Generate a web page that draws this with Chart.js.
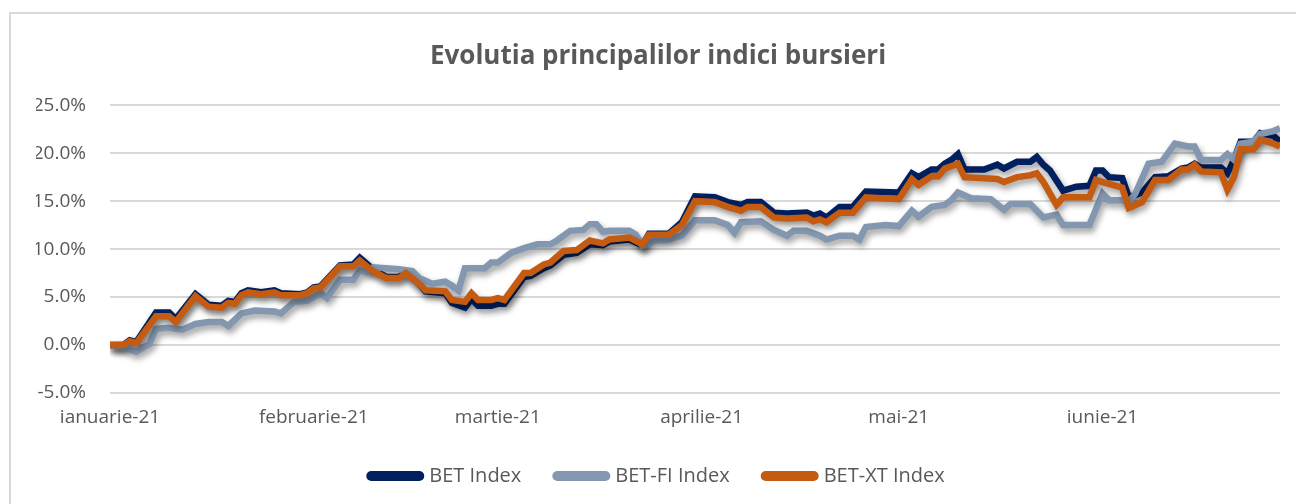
<!DOCTYPE html>
<html lang="ro">
<head>
    <meta charset="UTF-8">
    <title>Evolutia principalilor indici bursieri</title>
    <style>
        body {
            margin: 0;
            padding: 0;
            background: #fff;
            overflow: hidden;
        }
        .frame {
            position: absolute;
            left: 9px;
            top: 12px;
            width: 1300px;
            height: 500px;
            border: 2px solid #d9d9d9;
        }
        .wrap {
            position: absolute;
            left: 0;
            top: 0;
            width: 1296px;
            height: 504px;
        }
    </style>
</head>
<body>
    <div class="frame"></div>
    <div class="wrap"><canvas id="indiciChart" width="1296" height="504"></canvas></div>

    <script src="https://cdn.jsdelivr.net/npm/chart.js"></script>
    <script>
        // zile de la inceputul axei (0 = ianuarie) si variatia in %
        const monthStarts = [0, 31, 59, 90, 120, 151];
        const monthLabels = ['ianuarie-21', 'februarie-21', 'martie-21', 'aprilie-21', 'mai-21', 'iunie-21'];
        const yTicks = [-5, 0, 5, 10, 15, 20, 25];

        const betDays = [0, 2, 3, 4, 7, 9, 10, 13, 15, 17, 18, 19, 20, 21, 23, 25, 26, 29, 30, 31, 32, 35, 37, 38, 40, 42, 44, 45, 47, 48, 51, 52, 54, 55, 56, 58, 59, 60, 63, 64, 66, 67, 69, 71, 73, 75, 76, 79, 81, 82, 85, 87, 89, 92, 94, 96, 97, 99, 101, 103, 106, 107, 108, 109, 111, 113, 115, 120, 122, 123, 125, 126, 127, 128, 129, 130, 133, 135, 136, 138, 140, 141, 142, 143, 145, 147, 149, 150, 151, 152, 154, 155, 157, 159, 161, 163, 164, 165, 166, 169, 170, 171, 172, 174, 175, 177, 178];
        const betValues = [0.0, 0.0, 0.5, 0.3, 3.4, 3.4, 2.7, 5.3, 4.2, 4.1, 4.6, 4.5, 5.4, 5.7, 5.5, 5.7, 5.4, 5.3, 5.5, 6.0, 6.1, 8.3, 8.4, 9.1, 7.9, 7.1, 7.1, 7.6, 6.4, 5.6, 5.4, 4.4, 3.9, 4.8, 4.1, 4.1, 4.3, 4.3, 7.1, 7.2, 8.0, 8.3, 9.4, 9.6, 10.5, 10.4, 10.8, 11.0, 10.4, 11.6, 11.6, 12.8, 15.5, 15.4, 14.9, 14.6, 14.9, 14.9, 13.8, 13.7, 13.8, 13.5, 13.7, 13.3, 14.4, 14.4, 16.0, 15.9, 17.9, 17.5, 18.3, 18.3, 18.9, 19.3, 19.9, 18.3, 18.3, 18.8, 18.4, 19.1, 19.1, 19.6, 18.8, 18.2, 16.1, 16.5, 16.6, 18.2, 18.2, 17.5, 17.4, 15.4, 15.9, 17.5, 17.6, 18.4, 18.5, 18.9, 18.5, 18.5, 17.9, 19.3, 21.2, 21.2, 22.1, 21.8, 21.2];

        const fiDays = [0, 2, 4, 6, 7, 9, 11, 13, 15, 17, 18, 20, 22, 25, 26, 28, 30, 32, 33, 35, 37, 38, 39, 40, 44, 46, 47, 49, 51, 52, 53, 54, 55, 57, 58, 59, 61, 63, 65, 67, 68, 70, 72, 73, 74, 75, 76, 79, 80, 81, 83, 85, 87, 89, 92, 94, 95, 96, 99, 101, 103, 104, 106, 108, 109, 111, 113, 114, 115, 118, 120, 122, 123, 125, 127, 128, 129, 131, 134, 136, 137, 140, 142, 144, 145, 149, 151, 152, 154, 155, 156, 158, 160, 162, 164, 165, 166, 169, 170, 171, 172, 174, 175, 177, 178];
        const fiValues = [0.0, -0.2, -0.7, 0.1, 1.7, 1.8, 1.6, 2.2, 2.4, 2.4, 2.0, 3.3, 3.6, 3.5, 3.3, 4.5, 4.6, 5.4, 4.9, 6.8, 6.8, 7.8, 7.6, 8.1, 7.9, 7.7, 7.0, 6.4, 6.6, 6.2, 5.7, 8.0, 8.0, 8.0, 8.6, 8.6, 9.6, 10.1, 10.5, 10.5, 10.9, 11.9, 12.0, 12.6, 12.6, 11.8, 11.9, 11.9, 11.5, 10.3, 10.9, 11.0, 11.4, 13.0, 13.0, 12.5, 11.7, 12.8, 12.9, 12.0, 11.4, 11.9, 11.9, 11.4, 11.0, 11.4, 11.4, 11.0, 12.3, 12.5, 12.4, 14.0, 13.4, 14.4, 14.6, 15.1, 15.9, 15.3, 15.2, 14.1, 14.7, 14.7, 13.3, 13.6, 12.5, 12.5, 15.8, 15.1, 15.1, 14.9, 15.8, 18.9, 19.1, 21.0, 20.7, 20.7, 19.3, 19.3, 19.9, 19.3, 21.0, 21.2, 22.0, 22.3, 22.6];

        const xtDays = [0, 2, 3, 4, 7, 9, 10, 13, 15, 17, 18, 19, 20, 21, 23, 25, 26, 29, 30, 31, 32, 35, 37, 38, 40, 42, 44, 45, 47, 48, 51, 52, 54, 55, 56, 58, 59, 60, 63, 64, 66, 67, 69, 71, 73, 75, 76, 79, 81, 82, 85, 87, 89, 92, 94, 96, 97, 99, 101, 103, 106, 107, 108, 109, 111, 113, 115, 120, 122, 123, 125, 126, 127, 129, 130, 135, 136, 138, 140, 141, 142, 144, 145, 149, 150, 152, 154, 155, 157, 159, 161, 163, 164, 165, 166, 169, 170, 171, 172, 174, 175, 177, 178];
        const xtValues = [0.0, 0.0, 0.4, 0.2, 3.0, 3.0, 2.4, 5.1, 4.0, 3.9, 4.4, 4.3, 5.2, 5.5, 5.3, 5.5, 5.2, 5.2, 5.4, 5.9, 6.0, 8.2, 8.2, 8.8, 7.7, 7.0, 7.0, 7.5, 6.4, 5.7, 5.6, 4.7, 4.5, 5.4, 4.7, 4.7, 4.9, 4.7, 7.5, 7.5, 8.4, 8.6, 9.8, 9.9, 10.9, 10.6, 11.0, 11.2, 10.5, 11.5, 11.5, 12.5, 15.0, 14.9, 14.4, 14.0, 14.4, 14.4, 13.3, 13.2, 13.3, 12.9, 13.1, 12.8, 13.8, 13.8, 15.4, 15.2, 17.3, 16.7, 17.6, 17.6, 18.4, 18.9, 17.5, 17.3, 17.0, 17.5, 17.7, 17.9, 17.0, 14.6, 15.4, 15.4, 17.2, 16.8, 16.4, 14.3, 14.9, 17.2, 17.2, 18.3, 18.3, 18.8, 18.1, 18.0, 16.2, 17.5, 20.4, 20.4, 21.4, 21.0, 20.7];

        function toPoints(days, values) {
            return days.map((d, i) => ({ x: d, y: values[i] }));
        }

        // umbra sub linii, ca in Excel
        const lineShadow = {
            id: 'lineShadow',
            beforeDatasetDraw(chart) {
                const c = chart.ctx;
                c.save();
                c.shadowColor = 'rgba(0, 0, 0, 0.4)';
                c.shadowBlur = 6;
                c.shadowOffsetX = 2;
                c.shadowOffsetY = 4;
            },
            afterDatasetDraw(chart) {
                chart.ctx.restore();
            }
        };

        const textColor = '#595959';
        const fontFamily = "'Open Sans', 'Liberation Sans', sans-serif";

        const ctx = document.getElementById('indiciChart').getContext('2d');
        new Chart(ctx, {
            type: 'line',
            data: {
                datasets: [{
                    label: 'BET Index',
                    data: toPoints(betDays, betValues),
                    borderColor: '#002060',
                    backgroundColor: '#002060',
                    order: 3
                }, {
                    label: 'BET-FI Index',
                    data: toPoints(fiDays, fiValues),
                    borderColor: '#8497b0',
                    backgroundColor: '#8497b0',
                    order: 2
                }, {
                    label: 'BET-XT Index',
                    data: toPoints(xtDays, xtValues),
                    borderColor: '#c55a11',
                    backgroundColor: '#c55a11',
                    order: 1
                }]
            },
            options: {
                responsive: false,
                animation: false,
                devicePixelRatio: 1,
                layout: {
                    padding: { top: 14, left: 36, right: 16, bottom: 8 }
                },
                elements: {
                    line: { borderWidth: 6.5, tension: 0, borderJoinStyle: 'miter' },
                    point: { radius: 0, hoverRadius: 0 }
                },
                plugins: {
                    title: {
                        display: true,
                        text: 'Evolutia principalilor indici bursieri',
                        color: textColor,
                        font: { family: fontFamily, size: 26, weight: 'bold' },
                        padding: { top: 27, bottom: 33 }
                    },
                    legend: {
                        position: 'bottom',
                        maxHeight: 70,
                        labels: {
                            color: textColor,
                            font: { family: fontFamily, size: 20 },
                            usePointStyle: true,
                            pointStyleWidth: 48,
                            padding: 36,
                            sort: (a, b) => a.datasetIndex - b.datasetIndex,
                            generateLabels(chart) {
                                const items = Chart.defaults.plugins.legend.labels.generateLabels(chart);
                                items.forEach(it => {
                                    it.pointStyle = 'line';
                                    it.lineWidth = 10;
                                    it.lineCap = 'round';
                                });
                                return items;
                            }
                        }
                    },
                    tooltip: { enabled: false }
                },
                scales: {
                    x: {
                        type: 'linear',
                        min: 0,
                        max: 178,
                        grid: { display: false, drawTicks: false },
                        border: { display: false },
                        afterBuildTicks(scale) {
                            scale.ticks = monthStarts.map(v => ({ value: v }));
                        },
                        afterFit(scale) {
                            scale.height = 37;
                        },
                        ticks: {
                            autoSkip: false,
                            maxRotation: 0,
                            padding: 13,
                            color: textColor,
                            font: { family: fontFamily, size: 19 },
                            callback: (v) => monthLabels[monthStarts.indexOf(v)]
                        }
                    },
                    y: {
                        min: -5,
                        max: 25,
                        afterBuildTicks(scale) {
                            scale.ticks = yTicks.map(v => ({ value: v }));
                        },
                        afterFit(scale) {
                            scale.width = 74;
                        },
                        grid: { color: '#d9d9d9', lineWidth: 2, drawTicks: false },
                        border: { display: false },
                        ticks: {
                            padding: 24,
                            color: textColor,
                            font: { family: fontFamily, size: 19 },
                            callback: (v) => v.toFixed(1) + '%'
                        }
                    }
                }
            },
            plugins: [lineShadow]
        });
    </script>
</body>
</html>
